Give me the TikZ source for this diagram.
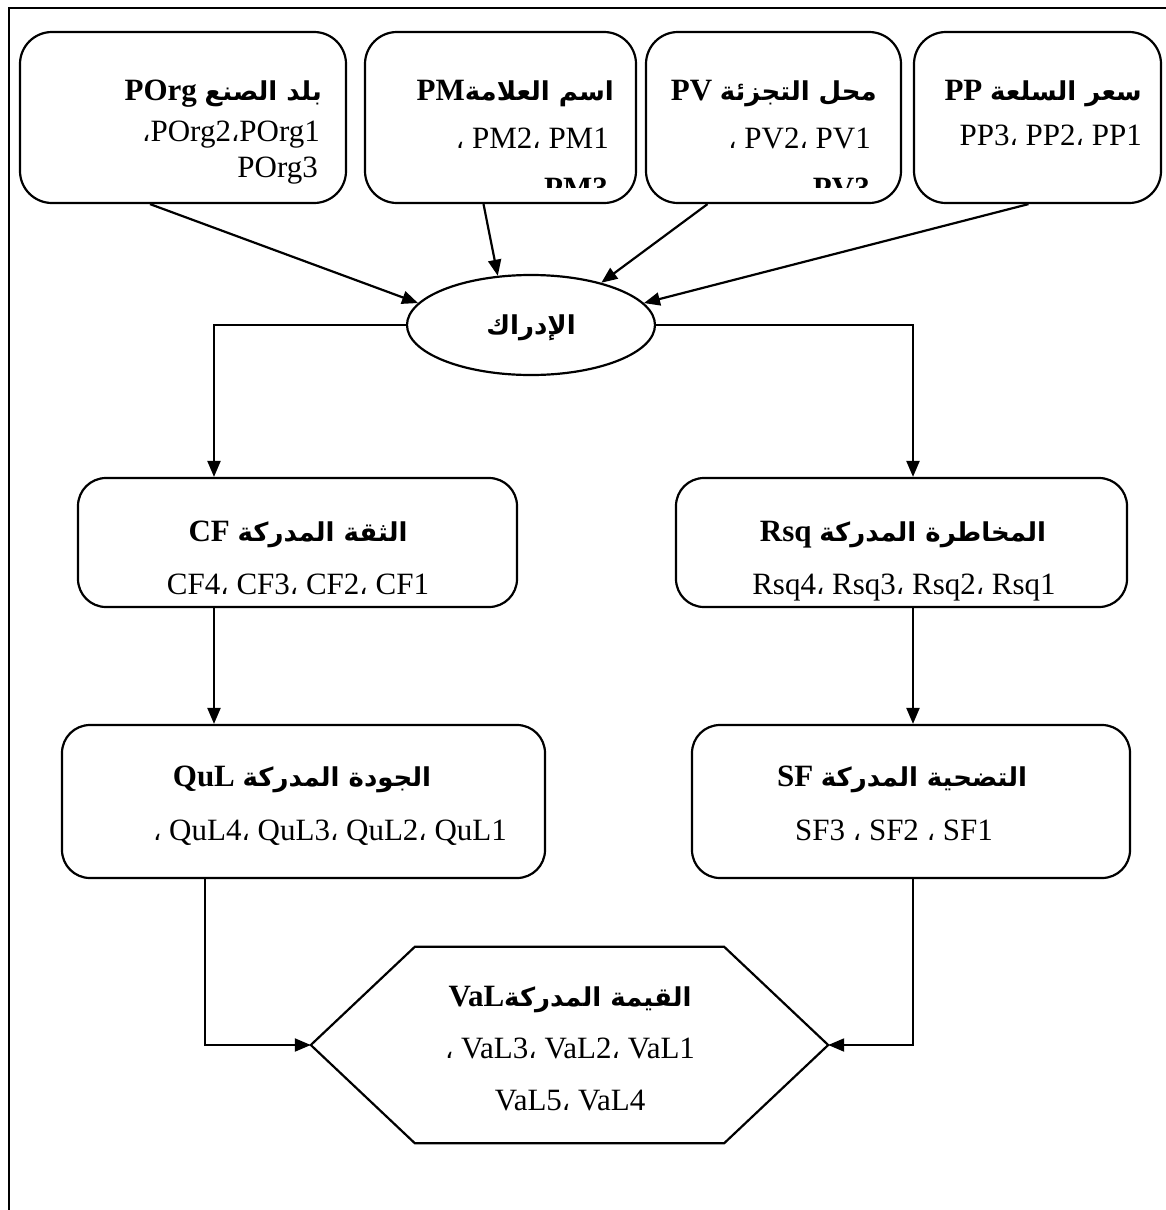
\documentclass[tikz,border=0pt]{standalone}
\usepackage{fontspec}
\setmainfont{Liberation Serif}
\newfontfamily\arabicfont[Script=Arabic]{DejaVu Sans}
\TeXXeTstate=1
\usetikzlibrary{arrows.meta,shapes.geometric}
% bold Arabic heading words, set right to left
\newcommand\artitle[1]{{\arabicfont\bfseries\fontsize{26}{30}\selectfont\beginR #1\endR}}
% Arabic comma between the item codes
\newcommand\acom{{\arabicfont\fontsize{26}{30}\selectfont ،}}
\tikzset{
  box/.style={draw, line width=2.2pt, rounded corners=32pt, inner sep=0pt},
  txt/.style={inner sep=0pt, font=\fontsize{31}{36}\selectfont},
  con/.style={line width=2.2pt, -{Triangle[length=16pt,width=13pt]}},
  frameline/.style={line width=2.2pt}
}
\begin{document}
\begin{tikzpicture}[x=1pt,y=-1pt]
\useasboundingbox (0,0) rectangle (1166,1210);
\draw[frameline] (9,1210) -- (9,8) -- (1166,8);

% column guides for the vertical connectors
\coordinate (colL) at (214,0);
\coordinate (colLb) at (205,0);
\coordinate (colR) at (913,0);

% top row: the four cues
\node[box, minimum width=326pt, minimum height=171pt] (porg) at (183,117.5) {};
\node[box, minimum width=271pt, minimum height=171pt] (pm) at (500.5,117.5) {};
\node[box, minimum width=255pt, minimum height=171pt] (pv) at (773.5,117.5) {};
\node[box, minimum width=247pt, minimum height=171pt] (pp) at (1037.5,117.5) {};

\node[txt, anchor=base east] (porgT) at (322,100) {\textbf{POrg} \artitle{بلد الصنع}};
\node[txt, anchor=base east] (porgA) at (320,141) {\acom{}POrg2\acom{}POrg1};
\node[txt, anchor=base east] (porgB) at (318,177) {POrg3};

\node[txt, anchor=base east] (pmT) at (614,100) {\textbf{PM}\artitle{اسم العلامة}};
\node[txt, anchor=base east] (pmA) at (609,148) {\acom{} PM2\acom{} PM1};

\node[txt, anchor=base east] (pvT) at (877,100) {\textbf{PV} \artitle{محل التجزئة}};
\node[txt, anchor=base east] (pvA) at (871,148) {\acom{} PV2\acom{} PV1};

\node[txt, anchor=base east] (ppT) at (1142,100) {\textbf{PP} \artitle{سعر السلعة}};
\node[txt, anchor=base east] (ppA) at (1142,145) {PP3\acom{} PP2\acom{} PP1};

% third items run past the box floor and are cut off
\begin{scope}
  \clip (pm.north west) rectangle ([yshift=17pt]pv.south east);
  \node[txt, anchor=base east] (pmB) at (608,198) {\textbf{PM3}};
  \node[txt, anchor=base east] (pvB) at (870,198) {\textbf{PV3}};
\end{scope}

% perception
\node[draw, ellipse, line width=2.2pt, minimum width=248pt, minimum height=100pt, inner sep=0pt]
  (ell) at (531,325) {};
\node[txt, anchor=base] (ellT) at (531,334) {\artitle{الإدراك}};

\draw[con] ([xshift=-33pt]porg.south) -- (ell.169);
\draw[con] ([xshift=-17pt]pm.south) -- (ell.124);
\draw[con] ([xshift=-66pt]pv.south) -- (ell.31);
\draw[con] ([xshift=-9pt]pp.south) -- (ell.11);

% second row
\node[box, rounded corners=28pt, minimum width=439pt, minimum height=129pt] (cf) at (297.5,542.5) {};
\node[box, rounded corners=28pt, minimum width=451pt, minimum height=129pt] (rsq) at (901.5,542.5) {};
\node[txt, anchor=base] (cfT) at (298,541) {\textbf{CF} \artitle{الثقة المدركة}};
\node[txt, anchor=base] (cfA) at (298,594) {CF4\acom{} CF3\acom{} CF2\acom{} CF1};
\node[txt, anchor=base] (rsqT) at (903,541) {\textbf{Rsq} \artitle{المخاطرة المدركة}};
\node[txt, anchor=base] (rsqA) at (904,594) {Rsq4\acom{} Rsq3\acom{} Rsq2\acom{} Rsq1};

\draw[con] (ell.west) -| (cf.north -| colL);
\draw[con] (ell.east) -| (rsq.north -| colR);

% third row
\node[box, rounded corners=28pt, minimum width=483pt, minimum height=153pt] (qul) at (303.5,801.5) {};
\node[box, rounded corners=28pt, minimum width=438pt, minimum height=153pt] (sf) at (911,801.5) {};
\node[txt, anchor=base] (qulT) at (302,786) {\textbf{QuL} \artitle{الجودة المدركة}};
\node[txt, anchor=base] (qulA) at (330,840) {\acom{} QuL4\acom{} QuL3\acom{} QuL2\acom{} QuL1};
\node[txt, anchor=base] (sfT) at (902,786) {\textbf{SF} \artitle{التضحية المدركة}};
\node[txt, anchor=base] (sfA) at (894,840) {SF3 \acom{} SF2 \acom{} SF1};

\draw[con] (cf.south -| colL) -- (qul.north -| colL);
\draw[con] (rsq.south -| colR) -- (sf.north -| colR);

% perceived value hexagon
\node[minimum width=517pt, minimum height=196pt, inner sep=0pt] (hex) at (569.5,1045) {};
\draw[line width=2.2pt] (hex.west) -- ([xshift=104pt]hex.north west) -- ([xshift=-104pt]hex.north east)
  -- (hex.east) -- ([xshift=-104pt]hex.south east) -- ([xshift=104pt]hex.south west) -- cycle;
\node[txt, anchor=base] (valT) at (570,1006) {\textbf{VaL}\artitle{القيمة المدركة}};
\node[txt, anchor=base] (valA) at (570,1058) {\acom{} VaL3\acom{} VaL2\acom{} VaL1};
\node[txt, anchor=base] (valB) at (570,1110) {VaL5\acom{} VaL4};

\draw[con] (qul.south -| colLb) |- (hex.west);
\draw[con] (sf.south -| colR) |- (hex.east);
\end{tikzpicture}
\end{document}
